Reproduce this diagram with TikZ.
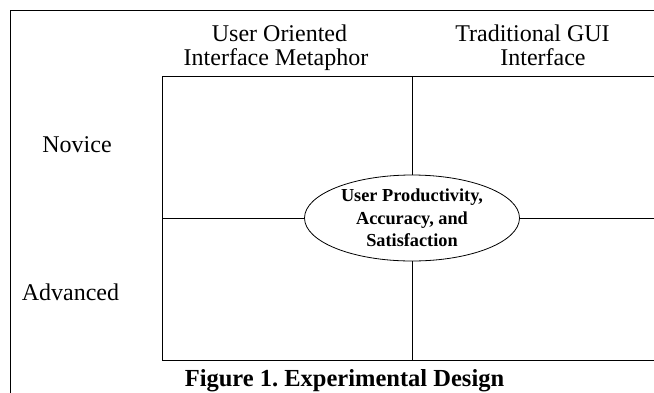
\documentclass[tikz,border=0pt]{standalone}
\usepackage{fontspec}
\setmainfont{Liberation Serif}
\usetikzlibrary{shapes.geometric}
\frenchspacing

\begin{document}
\begin{tikzpicture}[x=1pt,y=-1pt,
    heading/.style={anchor=base,inner sep=0pt,font=\fontsize{24}{24}\selectfont},
    figcaption/.style={anchor=base,inner sep=0pt,font=\fontsize{24.5}{24.5}\selectfont\bfseries},
    outcome/.style={ellipse,draw,line width=0.8pt,inner sep=0pt,
      minimum width=215pt,minimum height=86pt,align=center,
      font=\fontsize{18.3}{22.5}\selectfont\bfseries}]
  \useasboundingbox (0,0) rectangle (654,392);
  \clip (0,0) rectangle (654,392);
  \draw[line width=0.8pt] (10.5,400) |- (660,10);

  % column and row headings
  \node[heading] (uoi1) at (279.5,41) {User Oriented};
  \node[heading] (uoi2) at (276,65) {Interface Metaphor};
  \node[heading] (gui1) at (532.5,41) {Traditional GUI};
  \node[heading] (gui2) at (543,65) {Interface};
  \node[heading] (nov) at (77,152) {Novice};
  \node[heading] (adv) at (70.5,300) {Advanced};

  % the 2x2 design grid
  \coordinate (gtop) at (412,76);
  \coordinate (gbot) at (412,360);
  \coordinate (gleft) at (162.5,218);
  \coordinate (gright) at (660,218);
  \draw[line width=0.8pt] (660,76) -| (162.5,360) -- (660,360);
  \node[outcome] (dv) at (412,218) {User Productivity,\\Accuracy, and\\Satisfaction};
  \draw[line width=0.8pt] (gtop) -- (dv);
  \draw[line width=0.8pt] (dv) -- (gbot);
  \draw[line width=0.8pt] (gleft) -- (dv);
  \draw[line width=0.8pt] (dv) -- (gright);

  \node[figcaption] (cap) at (344.5,386) {Figure 1. Experimental Design};
\end{tikzpicture}
\end{document}
